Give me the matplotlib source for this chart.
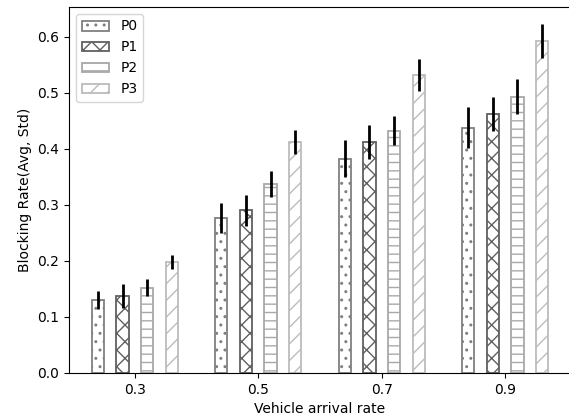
import numpy as np
import matplotlib
matplotlib.use('Agg')
import matplotlib.pyplot as plt

rates = ['0.3', '0.5', '0.7', '0.9']
labels = ['P0', 'P1', 'P2', 'P3']

avg_p0 = [0.130, 0.277, 0.382, 0.438]
avg_p1 = [0.137, 0.290, 0.412, 0.462]
avg_p2 = [0.152, 0.337, 0.432, 0.493]
avg_p3 = [0.198, 0.412, 0.532, 0.592]

std_p0 = [0.016, 0.027, 0.033, 0.037]
std_p1 = [0.021, 0.027, 0.030, 0.031]
std_p2 = [0.015, 0.023, 0.026, 0.031]
std_p3 = [0.013, 0.021, 0.029, 0.030]

avgs = [avg_p0, avg_p1, avg_p2, avg_p3]
stds = [std_p0, std_p1, std_p2, std_p3]
hatches = ['..', 'xx', '--', '//']
edges = ['#808080', '#606060', '#a8a8a8', '#bcbcbc']

x = np.arange(len(rates))
w = 0.1

fig = plt.figure(figsize=(5.69, 4.2), dpi=100)
ax = fig.add_axes([69 / 569, 47 / 420, 502 / 569, 366 / 420])
for i in range(4):
    ax.bar(x + (i - 1.5) * 0.2, avgs[i], w, yerr=stds[i], color='white',
           edgecolor=edges[i], hatch=hatches[i], linewidth=1.3,
           error_kw=dict(ecolor='black', elinewidth=2), label=labels[i])
ax.set_xticks(x)
ax.set_xticklabels(rates)
ax.set_xlabel('Vehicle arrival rate')
ax.set_ylabel('Blocking Rate(Avg, Std)')
ax.legend(loc='upper left')
fig.savefig('out.png', dpi=100)
